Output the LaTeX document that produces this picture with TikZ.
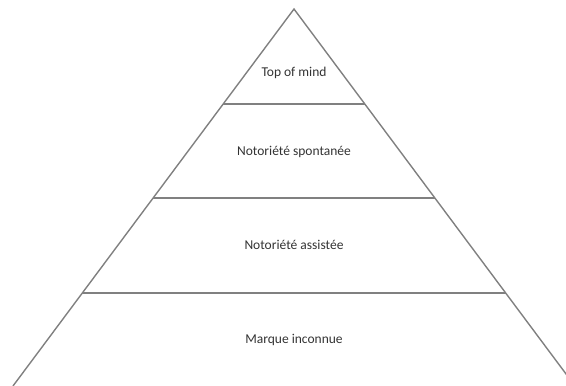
\documentclass[tikz,border=0pt]{standalone}
\usepackage{fontspec}
\setmainfont{Carlito}
\begin{document}
\begin{tikzpicture}[x=1pt,y=-1pt,
  edge/.style={draw=black!50, line width=1.4pt},
  level/.style={text=black!80, font=\fontsize{13.5}{15}\selectfont, anchor=center}]
\useasboundingbox (0,0) rectangle (566,386);
\clip (0,0) rectangle (566,386);
% pyramid outline
\coordinate (apex) at (294,9);
\coordinate (bl) at (13,386);
\coordinate (br) at (575,386);
\draw[edge, line join=miter] (bl) -- (apex) -- (br);
% level separators
\coordinate (l1) at (223.2,104); \coordinate (r1) at (364.8,104);
\coordinate (l2) at (153.1,198); \coordinate (r2) at (434.9,198);
\coordinate (l3) at (82.3,293);  \coordinate (r3) at (505.7,293);
\draw[edge] (l1) -- (r1);
\draw[edge] (l2) -- (r2);
\draw[edge] (l3) -- (r3);
% labels
\node[level] (top) at (294,73) {Top of mind};
\node[level] (spont) at (294,152) {Notoriété spontanée};
\node[level] (assist) at (294,245) {Notoriété assistée};
\node[level] (inconnue) at (294,340) {Marque inconnue};
\end{tikzpicture}
\end{document}
